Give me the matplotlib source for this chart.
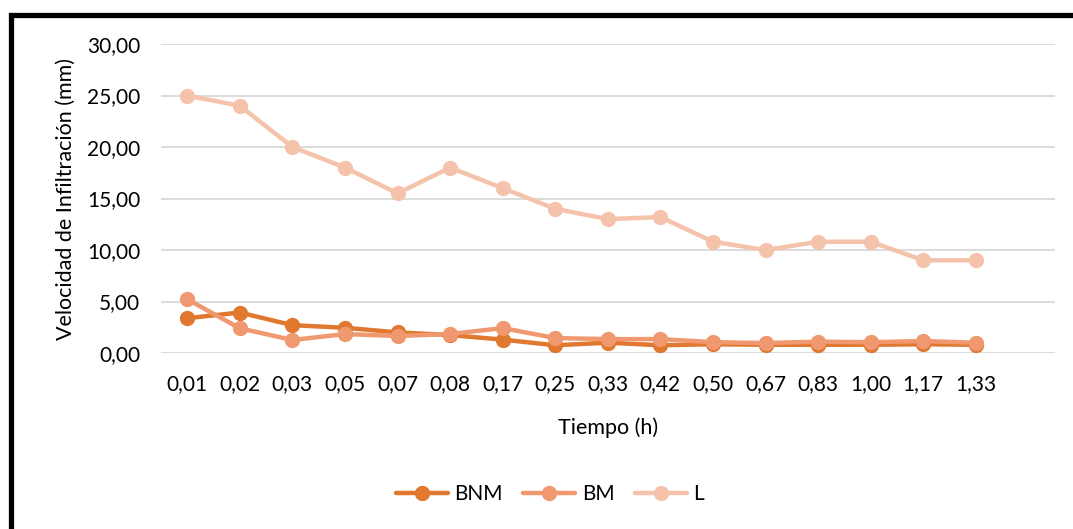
import matplotlib
matplotlib.use("Agg")
import matplotlib.pyplot as plt
from matplotlib.patches import Rectangle

plt.rcParams['font.family'] = ['Lato', 'DejaVu Sans']

tiempo = ["0,01", "0,02", "0,03", "0,05", "0,07", "0,08", "0,17", "0,25",
          "0,33", "0,42", "0,50", "0,67", "0,83", "1,00", "1,17", "1,33"]
bnm = [3.38, 3.93, 2.70, 2.45, 2.00, 1.74, 1.30, 0.75, 1.00, 0.75, 0.85, 0.80, 0.80, 0.80, 0.85, 0.80]
bm = [5.22, 2.40, 1.26, 1.84, 1.65, 1.84, 2.42, 1.45, 1.35, 1.35, 1.05, 0.97, 1.10, 1.05, 1.16, 1.00]
l = [25.0, 24.0, 20.0, 18.0, 15.5, 18.0, 16.0, 14.0, 13.0, 13.2, 10.8, 10.0, 10.8, 10.8, 9.0, 9.0]
yticks = [0, 5, 10, 15, 20, 25, 30]

series = [("BNM", bnm, "#E0782F"), ("BM", bm, "#F0986F"), ("L", l, "#F5C3AC")]

fig = plt.figure(figsize=(10.73, 5.29), dpi=100)
ax = fig.add_axes([0.150, 0.3327, 0.833, 0.5841])

x = list(range(len(tiempo)))
for name, vals, col in series:
    ax.plot(x, vals, color=col, lw=3.2, marker='o', ms=10, label=name,
            solid_capstyle='round')

ax.set_xlim(-0.5, len(tiempo) + 0.5)
ax.set_ylim(0, 30)
ax.set_yticks(yticks)
ax.set_yticklabels([("%.2f" % v).replace('.', ',') for v in yticks])
ax.set_xticks(x)
ax.set_xticklabels(tiempo)
ax.tick_params(length=0, labelsize=15, colors='#000000')
ax.tick_params(axis='x', pad=15)
ax.tick_params(axis='y', pad=15)
ax.grid(axis='y', color='#D9D9D9', lw=1.3)
ax.set_axisbelow(True)
for s in ax.spines.values():
    s.set_visible(False)

ax.set_xlabel("Tiempo (h)", fontsize=15.5, labelpad=17)
ax.set_ylabel("Velocidad de Infiltración (mm)", fontsize=15.5, labelpad=8)

ax.legend(loc='center', bbox_to_anchor=(550 / 1073, 1 - 494 / 529),
          bbox_transform=fig.transFigure, ncol=3, frameon=False,
          fontsize=15, handlelength=2.5, columnspacing=1.0, handletextpad=0.3)

fig.add_artist(Rectangle((10.5 / 1073, -0.1), 1.2, 1.1 - 15.5 / 529,
                         transform=fig.transFigure, fill=False,
                         ec='black', lw=3.8))

fig.savefig("out.png", dpi=100)
